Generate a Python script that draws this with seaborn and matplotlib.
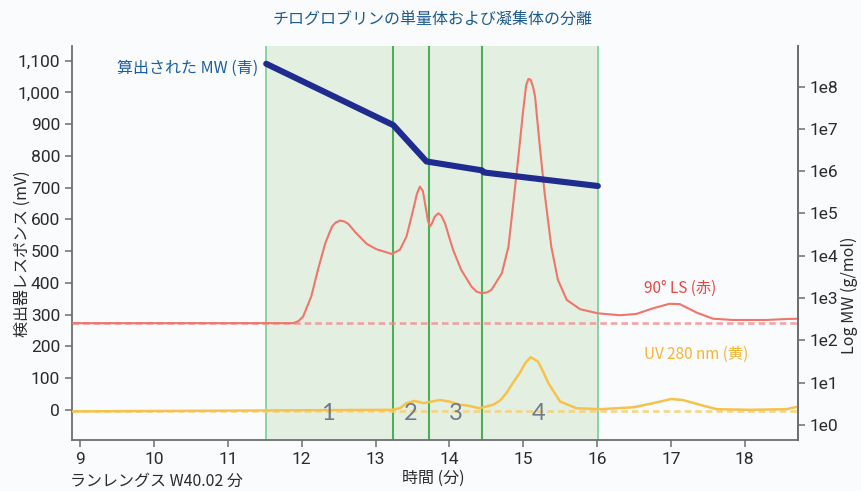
import numpy as np
import pandas as pd
import matplotlib
matplotlib.use("Agg")
import matplotlib.pyplot as plt
from matplotlib.ticker import FixedLocator, FuncFormatter, NullLocator
import seaborn as sns

# --- data -----------------------------------------------------------------
# 90° light-scattering detector trace (time in min, response in mV)
ls_time = [8.9, 11.89, 11.96, 12.02, 12.13, 12.22, 12.32, 12.41, 12.46, 12.52,
           12.58, 12.63, 12.74, 12.88, 13.01, 13.22, 13.33, 13.42, 13.51, 13.56,
           13.60, 13.64, 13.67, 13.71, 13.74, 13.77, 13.80, 13.85, 13.89, 13.94,
           14.05, 14.16, 14.30, 14.37, 14.44, 14.51, 14.57, 14.71, 14.80, 14.86,
           14.93, 15.00, 15.04, 15.07, 15.10, 15.13, 15.16, 15.22, 15.29, 15.38,
           15.47, 15.59, 15.77, 16.01, 16.31, 16.53, 16.76, 16.98, 17.12, 17.35,
           17.57, 17.84, 18.29, 18.56, 18.72]
ls_mv = [273, 273, 280, 294, 357, 441, 525, 577, 590, 596,
         593, 586, 556, 523, 506, 491, 504, 546, 630, 680,
         703, 690, 651, 595, 578, 590, 608, 619, 612, 588,
         504, 441, 388, 372, 367, 370, 378, 430, 514, 640,
         787, 945, 1023, 1042, 1040, 1020, 987, 840, 682, 514,
         409, 346, 317, 304, 298, 302, 320, 334, 333, 306,
         287, 283, 283, 286, 287]
ls_baseline = 273

# UV 280 nm detector trace
uv_time = [8.9, 13.22, 13.33, 13.42, 13.53, 13.65, 13.74, 13.87, 14.00, 14.14,
           14.23, 14.41, 14.59, 14.68, 14.77, 14.86, 14.95, 15.03, 15.10, 15.20,
           15.27, 15.34, 15.50, 15.72, 16.04, 16.49, 16.76, 17.00, 17.16, 17.39,
           17.62, 18.07, 18.56, 18.72]
uv_mv = [-5, 0, 5, 21, 28, 21, 25, 31, 26, 16,
         14, 5, 16, 28, 52, 85, 115, 148, 166, 152,
         120, 84, 26, 5, 2, 8, 21, 34, 31, 16,
         2, 0, 2, 10]
uv_baseline = -4

# calculated molecular weight across the integrated region (log10 g/mol)
mw_time = [11.52, 13.24, 13.69, 14.44, 14.47, 16.01]
mw_log = [8.54, 7.09, 6.23, 6.02, 5.97, 5.65]

# peak slice boundaries (min) and peak numbers
slice_bounds = [11.52, 13.24, 13.72, 14.44, 16.01]
peak_labels = ["1", "2", "3", "4"]
peak_label_time = [12.36, 13.47, 14.09, 15.21]

x_ticks = [9, 10, 11, 12, 13, 14, 15, 16, 17, 18]
y_ticks = list(range(0, 1101, 100))
mw_tick_exp = [0, 1, 2, 3, 4, 5, 6, 7, 8]

title = "チログロブリンの単量体および凝集体の分離"

# --- style ----------------------------------------------------------------
sns.set_theme(style="white")
plt.rcParams["font.family"] = ["Roboto", "Noto Sans CJK JP", "DejaVu Sans"]
jp = ["Noto Sans CJK JP", "DejaVu Sans"]

bg = "#fafbfd"
spine_c = "#6e6e6e"
tick_c = "#2b2b2b"

fig = plt.figure(figsize=(8.61, 4.91), dpi=100, facecolor=bg)
ax = fig.add_axes([0.0836, 0.1039, 0.8432, 0.8024])
ax.set_facecolor(bg)

# shaded integration window and slice boundaries
ax.axvspan(slice_bounds[0], slice_bounds[-1], color="#e3f0e1", zorder=0, lw=0)
for i, b in enumerate(slice_bounds):
    edge = i in (0, len(slice_bounds) - 1)
    ax.axvline(b, color="#74cf9a" if edge else "#4cad5a",
               lw=1.2 if edge else 1.5, zorder=1)

# baselines
ax.axhline(ls_baseline, color="#f2878a", lw=1.9, ls=(0, (2.5, 1.5)), alpha=0.75, zorder=2)
ax.axhline(uv_baseline, color="#f7cf73", lw=1.9, ls=(0, (2.5, 1.5)), alpha=0.85, zorder=2)

ls_df = pd.DataFrame({"time": ls_time, "mv": ls_mv})
uv_df = pd.DataFrame({"time": uv_time, "mv": uv_mv})
sns.lineplot(data=ls_df, x="time", y="mv", ax=ax, color="#f0756a", lw=1.5, zorder=3)
sns.lineplot(data=uv_df, x="time", y="mv", ax=ax, color="#f6c24d", lw=1.8, zorder=3)

for lab, t in zip(peak_labels, peak_label_time):
    ax.text(t, -12, lab, ha="center", va="center", fontsize=17,
            color="#6f7989", family=["Lato", "DejaVu Sans"], zorder=4)

ax.set_xlim(8.89, 18.72)
ax.set_ylim(-95, 1146)
ax.xaxis.set_major_locator(FixedLocator(x_ticks))
ax.yaxis.set_major_locator(FixedLocator(y_ticks))
ax.yaxis.set_major_formatter(FuncFormatter(lambda v, p: f"{int(v):,}"))
ax.set_xlabel("")
ax.set_ylabel("")

ax.spines["top"].set_visible(False)
for s in ("left", "bottom", "right"):
    ax.spines[s].set_color(spine_c)
    ax.spines[s].set_linewidth(1.3)
ax.tick_params(axis="both", which="major", direction="out", length=5, width=1.1,
               color=spine_c, labelcolor=tick_c, labelsize=12.5, left=True, bottom=True)

# right axis: molecular weight on a log scale
ax2 = ax.twinx()
mw_df = pd.DataFrame({"time": mw_time, "mw": [10 ** v for v in mw_log]})
sns.lineplot(data=mw_df, x="time", y="mw", ax=ax2, color="#1f2b8e", lw=4.4,
             solid_capstyle="round", solid_joinstyle="round", zorder=5)
ax2.set_yscale("log")
ax2.set_ylim(10 ** -0.355, 10 ** 8.96)
ax2.yaxis.set_major_locator(FixedLocator([10.0 ** e for e in mw_tick_exp]))
ax2.yaxis.set_minor_locator(NullLocator())
ax2.set_yticklabels([f"1e{e}" for e in mw_tick_exp])
ax2.set_ylabel("")
ax2.set_xlabel("")
for s in ("top", "left", "bottom"):
    ax2.spines[s].set_visible(False)
ax2.spines["right"].set_color(spine_c)
ax2.spines["right"].set_linewidth(1.3)
ax2.tick_params(axis="y", direction="out", length=5, width=1.1, color=spine_c,
                labelcolor=tick_c, labelsize=12.5, right=True)

# titles and labels
fig.text(0.502, 0.959, title, ha="center", va="center", fontsize=11.5,
         color="#1d5b8f", family=jp)
fig.text(0.2997, 0.8615, "算出された MW (青)", ha="right", va="center", fontsize=11.5,
         color="#1a5f9e", family=jp)
fig.text(0.748, 0.4134, "90° LS (赤)", ha="left", va="center", fontsize=11,
         color="#e8463e", family=jp)
fig.text(0.748, 0.279, "UV 280 nm (黄)", ha="left", va="center", fontsize=11,
         color="#f6b530", family=jp)
fig.text(0.026, 0.483, "検出器レスポンス (mV)", ha="center", va="center", rotation=90,
         fontsize=11.5, color=tick_c, family=jp)
fig.text(0.987, 0.399, "Log MW (g/mol)", ha="center", va="center", rotation=90,
         fontsize=11.5, color=tick_c, family=jp)
fig.text(0.503, 0.026, "時間 (分)", ha="center", va="center", fontsize=11.5,
         color=tick_c, family=jp)
fig.text(0.081, 0.020, "ランレングス W40.02 分", ha="left", va="center", fontsize=11.5,
         color=tick_c, family=jp)

fig.savefig("out.png", dpi=100, facecolor=bg)
